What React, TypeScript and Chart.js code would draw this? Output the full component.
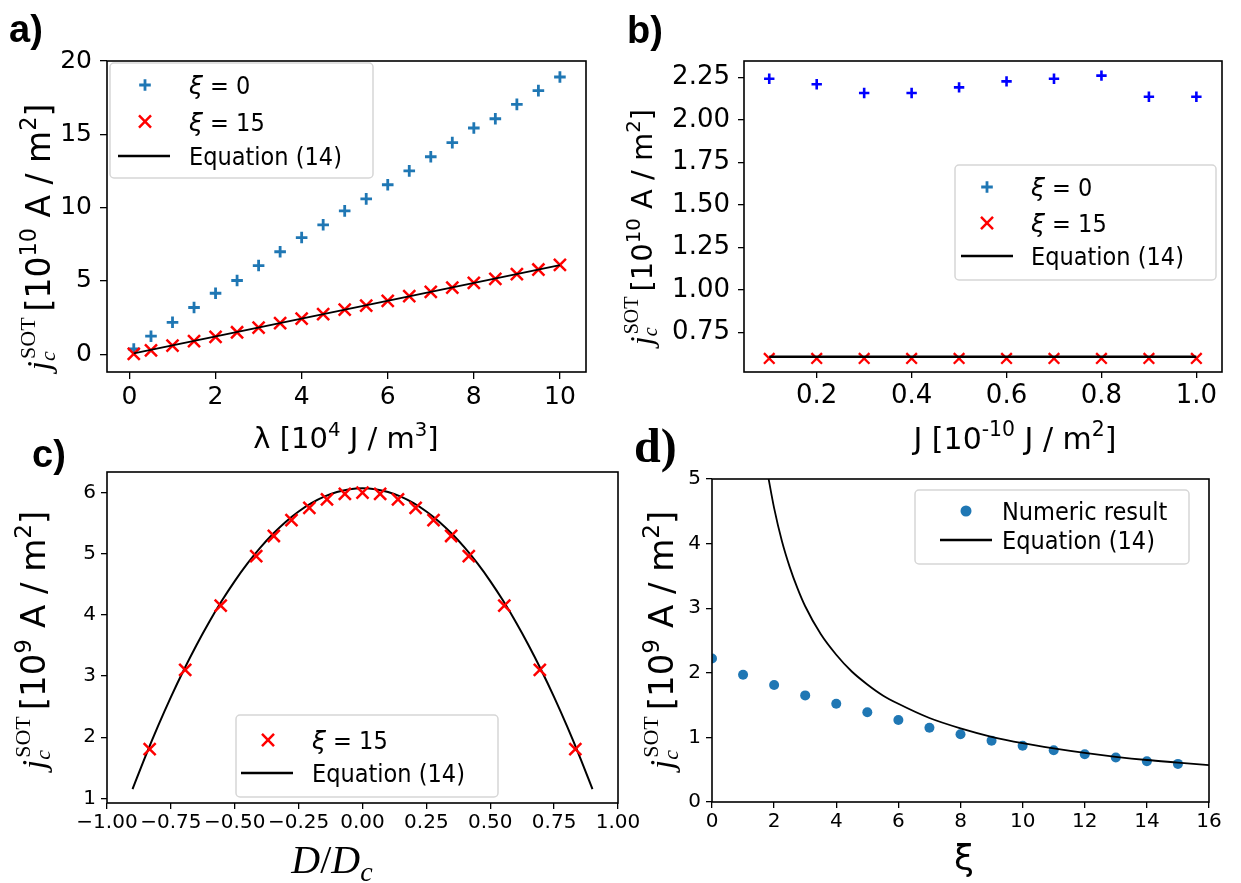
import React, { useEffect, useRef } from 'react';
import { Chart, registerables } from 'chart.js';
Chart.register(...registerables);

// ---------- data: panel a ----------
const aLambda = [0.1, 0.5, 1, 1.5, 2, 2.5, 3, 3.5, 4, 4.5, 5, 5.5, 6, 6.5, 7, 7.5, 8, 8.5, 9, 9.5, 10];
const aXi0 = [0.36, 1.23, 2.18, 3.19, 4.16, 5.03, 6.05, 6.99, 7.96, 8.83, 9.78, 10.6, 11.56, 12.51, 13.47, 14.43, 15.43, 16.06, 17.04, 17.98, 18.91];
const aXi15 = [0.02, 0.27, 0.59, 0.89, 1.18, 1.5, 1.82, 2.12, 2.43, 2.73, 3.05, 3.32, 3.64, 3.96, 4.25, 4.55, 4.87, 5.14, 5.46, 5.78, 6.1];
const aEqLambda = [0.1, 10];
const aEqJ = [0.06, 6.08];
const aXTicks = [0, 2, 4, 6, 8, 10];
const aYTicks = [0, 5, 10, 15, 20];
const aLegend = ['ξ = 0', 'ξ = 15', 'Equation (14)'];

// ---------- data: panel b ----------
const bJ = [0.1, 0.2, 0.3, 0.4, 0.5, 0.6, 0.7, 0.8, 0.9, 1.0];
const bXi0 = [2.242, 2.209, 2.158, 2.158, 2.191, 2.226, 2.242, 2.26, 2.136, 2.136];
const bXi15 = [0.598, 0.598, 0.598, 0.598, 0.598, 0.598, 0.598, 0.598, 0.598, 0.598];
const bEqJ = [0.1, 1.0];
const bEqVal = [0.607, 0.607];
const bXTicks = [0.2, 0.4, 0.6, 0.8, 1.0];
const bYTicks = [0.75, 1.0, 1.25, 1.5, 1.75, 2.0, 2.25];
const bLegend = ['ξ = 0', 'ξ = 15', 'Equation (14)'];

// ---------- data: panel c ----------
const cD = [-0.833, -0.694, -0.555, -0.416, -0.347, -0.278, -0.208, -0.139, -0.069, 0, 0.069, 0.139, 0.208, 0.278, 0.347, 0.416, 0.555, 0.694, 0.833];
const cXi15 = [1.805, 3.1, 4.15, 4.96, 5.29, 5.55, 5.75, 5.89, 5.98, 6.0, 5.98, 5.89, 5.75, 5.55, 5.29, 4.96, 4.15, 3.1, 1.805];
const cEqD = [-0.9, -0.85, -0.8, -0.75, -0.7, -0.65, -0.6, -0.55, -0.5, -0.45, -0.4, -0.35, -0.3, -0.25, -0.2, -0.15, -0.1, -0.05, 0, 0.05, 0.1, 0.15, 0.2, 0.25, 0.3, 0.35, 0.4, 0.45, 0.5, 0.55, 0.6, 0.65, 0.7, 0.75, 0.8, 0.85, 0.9];
const cEqJ = [1.153, 1.684, 2.185, 2.656, 3.096, 3.505, 3.885, 4.234, 4.553, 4.841, 5.099, 5.326, 5.524, 5.691, 5.827, 5.933, 6.009, 6.055, 6.07, 6.055, 6.009, 5.933, 5.827, 5.691, 5.524, 5.326, 5.099, 4.841, 4.553, 4.234, 3.885, 3.505, 3.096, 2.656, 2.185, 1.684, 1.153];
const cXTicks = [-1, -0.75, -0.5, -0.25, 0, 0.25, 0.5, 0.75, 1];
const cYTicks = [1, 2, 3, 4, 5, 6];
const cLegend = ['ξ = 15', 'Equation (14)'];

// ---------- data: panel d ----------
const dXi = [0, 1, 2, 3, 4, 5, 6, 7, 8, 9, 10, 11, 12, 13, 14, 15];
const dNumeric = [2.22, 1.97, 1.81, 1.65, 1.52, 1.39, 1.27, 1.15, 1.05, 0.95, 0.87, 0.8, 0.74, 0.69, 0.63, 0.59];
const dEqXi = [1.8, 2, 2.25, 2.5, 2.75, 3, 3.5, 4, 4.5, 5, 5.5, 6, 7, 8, 9, 10, 11, 12, 13, 14, 15, 16];
const dEqJ = [5.06, 4.55, 4.04, 3.64, 3.31, 3.03, 2.6, 2.28, 2.02, 1.82, 1.65, 1.52, 1.3, 1.14, 1.01, 0.91, 0.83, 0.76, 0.7, 0.65, 0.61, 0.57];
const dXTicks = [0, 2, 4, 6, 8, 10, 12, 14, 16];
const dYTicks = [0, 1, 2, 3, 4, 5];
const dLegend = ['Numeric result', 'Equation (14)'];

// ---------- styling ----------
const TAB_BLUE = '#1f77b4';
const RED = '#ff0000';
const BLUE = '#0000ff';
const SANS = "'DejaVu Sans', sans-serif";
const COND = "'DejaVu Sans Condensed', 'DejaVu Sans', sans-serif";
const SERIF = "'Liberation Serif', 'DejaVu Serif', serif";
const CW = 1400, CH = 1000;
const YW = 80, XH = 60;

const fmtInt = (v: number) => String(Math.round(v));
const fmt1 = (v: number) => v.toFixed(1);
const fmt2 = (v: number) => (v < 0 ? '\u2212' + Math.abs(v).toFixed(2) : v.toFixed(2));

function axis(o: { min: number; max: number; ticks: number[]; fmt: (v: number) => string; size: number; tl: number; pad: number; x: boolean; family?: string }) {
  return {
    type: 'linear',
    min: o.min,
    max: o.max,
    afterBuildTicks: (s: any) => { s.ticks = o.ticks.map((v) => ({ value: v })); },
    afterFit: (s: any) => { if (o.x) s.height = XH; else s.width = YW; },
    grid: { display: true, drawOnChartArea: false, drawTicks: true, tickLength: o.tl, color: '#000', lineWidth: 1.3 },
    border: { display: false },
    ticks: {
      color: '#000',
      font: { family: o.family ?? SANS, size: o.size },
      padding: o.pad,
      autoSkip: false,
      maxRotation: 0,
      minRotation: 0,
      callback: (v: any) => o.fmt(Number(v)),
    },
  };
}

const pts = (xs: number[], ys: number[]) => xs.map((x, i) => ({ x, y: ys[i] }));

type Row = { y: number; kind: 'cross' | 'crossRot' | 'line' | 'circle'; color: string; label: string; r?: number; lw?: number };
type LegendCfg = { box: [number, number, number, number]; markerX: number; lineX: [number, number]; textX: number; font: number; rows: Row[] };

function framePlugin() {
  return {
    id: 'frame',
    afterDatasetsDraw(chart: any) {
      const { ctx, chartArea: a } = chart;
      ctx.save();
      ctx.strokeStyle = '#000';
      ctx.lineWidth = 1.6;
      ctx.strokeRect(a.left, a.top, a.right - a.left, a.bottom - a.top);
      ctx.restore();
    },
  };
}

function legendPlugin(cfg: LegendCfg) {
  return {
    id: 'inLegend',
    afterDraw(chart: any) {
      const ctx = chart.ctx as CanvasRenderingContext2D;
      ctx.save();
      const [x0, y0, x1, y1] = cfg.box;
      const r = 4;
      ctx.beginPath();
      ctx.moveTo(x0 + r, y0);
      ctx.arcTo(x1, y0, x1, y1, r);
      ctx.arcTo(x1, y1, x0, y1, r);
      ctx.arcTo(x0, y1, x0, y0, r);
      ctx.arcTo(x0, y0, x1, y0, r);
      ctx.closePath();
      ctx.fillStyle = 'rgba(255,255,255,0.85)';
      ctx.fill();
      ctx.strokeStyle = '#d6d6d6';
      ctx.lineWidth = 1.5;
      ctx.stroke();
      for (const row of cfg.rows) {
        const mx = cfg.markerX, my = row.y;
        ctx.strokeStyle = row.color;
        ctx.fillStyle = row.color;
        ctx.lineWidth = row.lw ?? 2.5;
        ctx.beginPath();
        if (row.kind === 'cross') {
          const rr = row.r ?? 6;
          ctx.moveTo(mx - rr, my); ctx.lineTo(mx + rr, my);
          ctx.moveTo(mx, my - rr); ctx.lineTo(mx, my + rr);
          ctx.stroke();
        } else if (row.kind === 'crossRot') {
          const rr = (row.r ?? 8) * Math.SQRT1_2;
          ctx.moveTo(mx - rr, my - rr); ctx.lineTo(mx + rr, my + rr);
          ctx.moveTo(mx + rr, my - rr); ctx.lineTo(mx - rr, my + rr);
          ctx.stroke();
        } else if (row.kind === 'circle') {
          ctx.arc(mx, my, row.r ?? 5, 0, Math.PI * 2);
          ctx.fill();
        } else {
          ctx.moveTo(cfg.lineX[0], my); ctx.lineTo(cfg.lineX[1], my);
          ctx.stroke();
        }
        ctx.fillStyle = '#000';
        ctx.textBaseline = 'alphabetic';
        ctx.textAlign = 'left';
        const base = my + cfg.font * 0.36;
        let tx = cfg.textX;
        let text = row.label;
        if (text.startsWith('ξ')) {
          ctx.font = `italic ${cfg.font}px ${SANS}`;
          ctx.fillText('ξ', tx, base);
          tx += ctx.measureText('ξ').width;
          text = text.slice(1);
        }
        ctx.font = `${cfg.font}px ${COND}`;
        ctx.fillText(text, tx, base);
      }
      ctx.restore();
    },
  };
}

function padFor(L: number, T: number, R: number, B: number) {
  return { left: L - YW, top: T, right: CW - R, bottom: CH - B - XH };
}

function baseOptions(padding: any, scales: any) {
  return {
    animation: false,
    responsive: false,
    events: [],
    layout: { padding },
    plugins: { legend: { display: false }, tooltip: { enabled: false } },
    scales,
  };
}

function buildA() {
  return {
    type: 'scatter',
    data: {
      datasets: [
        { label: aLegend[2], data: pts(aEqLambda, aEqJ), showLine: true, borderColor: '#000', borderWidth: 2, pointRadius: 0, clip: 0, order: 1 },
        { label: aLegend[1], data: pts(aLambda, aXi15), pointStyle: 'crossRot', pointRadius: 8.5, pointBorderWidth: 2.5, borderColor: RED, pointBorderColor: RED, backgroundColor: RED, clip: 0, order: 2 },
        { label: aLegend[0], data: pts(aLambda, aXi0), pointStyle: 'cross', pointRadius: 5.8, pointBorderWidth: 2.8, borderColor: TAB_BLUE, pointBorderColor: TAB_BLUE, backgroundColor: TAB_BLUE, clip: 0, order: 3 },
      ],
    },
    options: baseOptions(padFor(107, 61, 586, 372), {
      x: axis({ min: -0.522, max: 10.606, ticks: aXTicks, fmt: fmtInt, size: 25, tl: 7, pad: 3, x: true }),
      y: axis({ min: -1.21, max: 20, ticks: aYTicks, fmt: fmtInt, size: 25, tl: 7, pad: 8, x: false }),
    }),
    plugins: [framePlugin(), legendPlugin({
      box: [110, 63, 373, 178], markerX: 145, lineX: [118, 170], textX: 189, font: 25,
      rows: [
        { y: 85, kind: 'cross', color: TAB_BLUE, label: aLegend[0], r: 5.8, lw: 2.8 },
        { y: 121.5, kind: 'crossRot', color: RED, label: aLegend[1], r: 8.5, lw: 2.5 },
        { y: 156, kind: 'line', color: '#000', label: aLegend[2], lw: 2.5 },
      ],
    })],
  };
}

function buildB() {
  return {
    type: 'scatter',
    data: {
      datasets: [
        { label: bLegend[2], data: pts(bEqJ, bEqVal), showLine: true, borderColor: '#000', borderWidth: 2.5, pointRadius: 0, clip: 0, order: 1 },
        { label: bLegend[1], data: pts(bJ, bXi15), pointStyle: 'crossRot', pointRadius: 7.5, pointBorderWidth: 2.3, borderColor: RED, pointBorderColor: RED, backgroundColor: RED, clip: 0, order: 2 },
        { label: bLegend[0], data: pts(bJ, bXi0), pointStyle: 'cross', pointRadius: 5.2, pointBorderWidth: 2.6, borderColor: BLUE, pointBorderColor: BLUE, backgroundColor: BLUE, clip: 0, order: 3 },
      ],
    },
    options: baseOptions(padFor(744, 61, 1222, 372), {
      x: axis({ min: 0.0468, max: 1.054, ticks: bXTicks, fmt: fmt1, size: 26, tl: 6, pad: 3, x: true }),
      y: axis({ min: 0.518, max: 2.346, ticks: bYTicks, fmt: fmt2, size: 26, tl: 6, pad: 8, x: false }),
    }),
    plugins: [framePlugin(), legendPlugin({
      box: [955, 165, 1216, 280], markerX: 987, lineX: [961, 1013], textX: 1031, font: 25,
      rows: [
        { y: 187, kind: 'cross', color: TAB_BLUE, label: bLegend[0], r: 5.8, lw: 2.8 },
        { y: 223, kind: 'crossRot', color: RED, label: bLegend[1], r: 8.5, lw: 2.5 },
        { y: 256, kind: 'line', color: '#000', label: bLegend[2], lw: 2.5 },
      ],
    })],
  };
}

function buildC() {
  return {
    type: 'scatter',
    data: {
      datasets: [
        { label: cLegend[0], data: pts(cD, cXi15), pointStyle: 'crossRot', pointRadius: 8.5, pointBorderWidth: 2.5, borderColor: RED, pointBorderColor: RED, backgroundColor: RED, clip: 0, order: 1 },
        { label: cLegend[1], data: pts(cEqD, cEqJ), showLine: true, cubicInterpolationMode: 'monotone', borderColor: '#000', borderWidth: 2, pointRadius: 0, clip: 0, order: 2 },
      ],
    },
    options: baseOptions(padFor(107, 472, 618, 803), {
      x: axis({ min: -1, max: 1, ticks: cXTicks, fmt: fmt2, size: 20, tl: 6, pad: 2, x: true }),
      y: axis({ min: 0.925, max: 6.336, ticks: cYTicks, fmt: fmtInt, size: 20, tl: 6, pad: 5, x: false }),
    }),
    plugins: [framePlugin(), legendPlugin({
      box: [236, 715, 498, 797], markerX: 268, lineX: [241, 293], textX: 312, font: 25,
      rows: [
        { y: 740, kind: 'crossRot', color: RED, label: cLegend[0], r: 8.5, lw: 2.5 },
        { y: 773, kind: 'line', color: '#000', label: cLegend[1], lw: 2.5 },
      ],
    })],
  };
}

function buildD() {
  return {
    type: 'scatter',
    data: {
      datasets: [
        { label: dLegend[0], data: pts(dXi, dNumeric), pointStyle: 'circle', pointRadius: 5, pointBorderWidth: 0, borderColor: TAB_BLUE, backgroundColor: TAB_BLUE, pointBackgroundColor: TAB_BLUE, clip: 0, order: 2 },
        { label: dLegend[1], data: pts(dEqXi, dEqJ), showLine: true, cubicInterpolationMode: 'monotone', borderColor: '#000', borderWidth: 1.8, pointRadius: 0, clip: 0, order: 1 },
      ],
    },
    options: baseOptions(padFor(712, 479, 1209, 802), {
      x: axis({ min: 0, max: 16, ticks: dXTicks, fmt: fmtInt, size: 20, tl: 6, pad: 2, x: true }),
      y: axis({ min: 0, max: 5, ticks: dYTicks, fmt: fmtInt, size: 20, tl: 6, pad: 5, x: false }),
    }),
    plugins: [framePlugin(), legendPlugin({
      box: [915, 490, 1189, 564], markerX: 966, lineX: [940, 992], textX: 1002, font: 25,
      rows: [
        { y: 511, kind: 'circle', color: TAB_BLUE, label: dLegend[0], r: 5.5 },
        { y: 540, kind: 'line', color: '#000', label: dLegend[1], lw: 2.5 },
      ],
    })],
  };
}

function Panel({ build }: { build: () => any }) {
  const ref = useRef<HTMLCanvasElement>(null);
  useEffect(() => {
    const chart = new Chart(ref.current as HTMLCanvasElement, build());
    return () => chart.destroy();
  }, []);
  return <canvas ref={ref} width={CW} height={CH} style={{ position: 'absolute', left: 0, top: 0, width: CW, height: CH }} />;
}

const Sup = ({ children }: { children: any }) => (
  <sup style={{ fontSize: '0.68em', verticalAlign: 'baseline', position: 'relative', top: '-0.62em' }}>{children}</sup>
);

function YTitle({ cx, cy, sans, j, exp }: { cx: number; cy: number; sans: number; j: number; exp: string }) {
  const sub = Math.round(j * 0.64);
  return (
    <div style={{ position: 'absolute', left: cx, top: cy, transform: 'translate(-50%,-50%) rotate(-90deg)', whiteSpace: 'nowrap', lineHeight: 1, color: '#000' }}>
      <span style={{ fontFamily: SERIF, fontStyle: 'italic', fontSize: j }}>j</span>
      <span style={{ display: 'inline-block', position: 'relative', width: sub * 1.95, height: j, fontFamily: SERIF, fontSize: sub }}>
        <span style={{ position: 'absolute', left: 2, top: j * 0.04 }}>SOT</span>
        <span style={{ position: 'absolute', left: 0, top: j * 0.62, fontStyle: 'italic' }}>c</span>
      </span>
      <span style={{ fontFamily: SANS, fontSize: sans, marginLeft: sans * 0.2 }}>[10<Sup>{exp}</Sup> A / m<Sup>2</Sup>]</span>
    </div>
  );
}

function Txt({ left, top, size, family, weight, children, center }: any) {
  return (
    <div style={{ position: 'absolute', left, top, fontSize: size, fontFamily: family, fontWeight: weight ?? 'normal', lineHeight: 1, whiteSpace: 'nowrap', color: '#000', transform: center ? 'translateX(-50%)' : undefined }}>
      {children}
    </div>
  );
}

export default function App() {
  return (
    <div style={{ position: 'absolute', left: 0, top: 0, width: 1241, height: 883, overflow: 'hidden', background: '#fff' }}>
      <Panel build={buildA} />
      <Panel build={buildB} />
      <Panel build={buildC} />
      <Panel build={buildD} />

      <Txt left={9} top={10} size={38} family="'Liberation Sans', Arial, sans-serif" weight="bold">a)</Txt>
      <Txt left={627} top={11} size={38} family="'Liberation Sans', Arial, sans-serif" weight="bold">b)</Txt>
      <Txt left={32} top={435} size={38} family="'Liberation Sans', Arial, sans-serif" weight="bold">c)</Txt>
      <Txt left={634} top={422} size={48} family={SERIF} weight="bold">d)</Txt>

      <Txt left={346} top={424} size={29} family={SANS} center>λ [10<Sup>4</Sup> J / m<Sup>3</Sup>]</Txt>
      <Txt left={1015} top={424} size={30} family={SANS} center>J [10<Sup>-10</Sup> J / m<Sup>2</Sup>]</Txt>
      <Txt left={332} top={840} size={40} family={SERIF} center>
        <i>D</i>/<i>D</i><span style={{ fontStyle: 'italic', fontSize: '0.7em', position: 'relative', top: '0.3em' }}>c</span>
      </Txt>
      <Txt left={964} top={840} size={36} family={SANS} center>ξ</Txt>

      <YTitle cx={36} cy={237} sans={33} j={34} exp="10" />
      <YTitle cx={638} cy={227} sans={29} j={32} exp="10" />
      <YTitle cx={31} cy={640} sans={34} j={34} exp="9" />
      <YTitle cx={659} cy={640} sans={34} j={34} exp="9" />
    </div>
  );
}
